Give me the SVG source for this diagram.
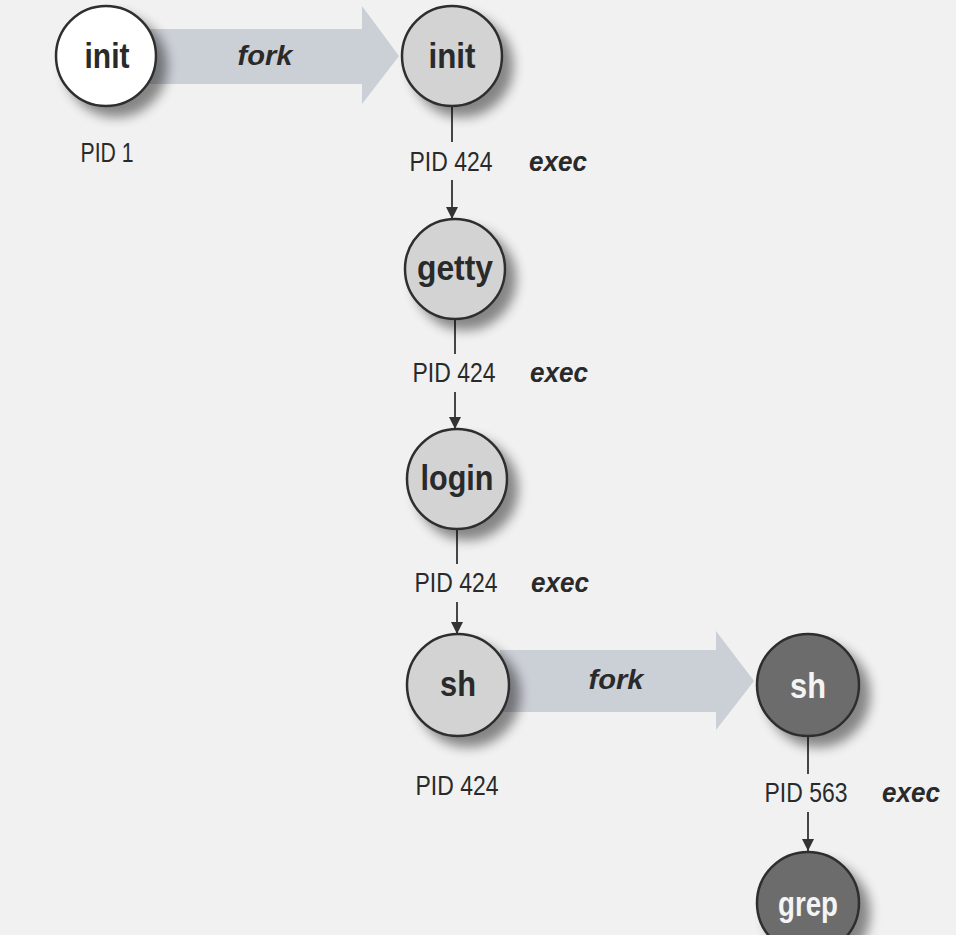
<svg xmlns="http://www.w3.org/2000/svg" width="956" height="935" viewBox="0 0 956 935">
<defs>
<filter id="sh" x="-30%" y="-30%" width="170%" height="170%">
<feGaussianBlur in="SourceAlpha" stdDeviation="6"/>
<feOffset dx="10" dy="10" result="b"/>
<feComponentTransfer><feFuncA type="linear" slope="0.45"/></feComponentTransfer>
<feMerge><feMergeNode/><feMergeNode in="SourceGraphic"/></feMerge>
</filter>
<marker id="ah" viewBox="0 0 10 10" refX="10" refY="5" markerWidth="14" markerHeight="12" markerUnits="userSpaceOnUse" orient="auto">
<path d="M0,0 L10,5 L0,10 Z" fill="#333"/>
</marker>
<style>
.n{stroke:#2e2e2e;stroke-width:2.5}
.w{fill:#ffffff}
.l{fill:#d3d3d3}
.d{fill:#6c6c6c}
.lbl{font-family:"Liberation Sans","Arial",sans-serif;font-weight:bold;font-size:35px;text-anchor:middle;dominant-baseline:central}
.dk{fill:#2a2a2a}
.lt{fill:#f4f4f4}
.pid{font-family:"Liberation Sans","Arial",sans-serif;font-size:27px;fill:#2a2a2a;text-anchor:middle;dominant-baseline:central}
.op{font-family:"Liberation Sans","Arial",sans-serif;font-size:27px;font-weight:bold;font-style:italic;fill:#2a2a2a;text-anchor:middle;dominant-baseline:central}
.fk{fill:#cbcfd6}
.ln{stroke:#333;stroke-width:1.8;fill:none}
</style>
</defs>
<rect width="956" height="935" fill="#f1f1f1"/>
<g id="connectors">
<path class="fk" d="M150,29 L362,29 L362,6 L399,56 L362,104 L362,84 L150,84 Z"/>
<text class="op" x="265" y="56" textLength="55" lengthAdjust="spacingAndGlyphs">fork</text>
<path class="fk" d="M500,650 L716,650 L716,631 L754,681 L716,730 L716,712 L500,712 Z"/>
<text class="op" x="616" y="680" textLength="55" lengthAdjust="spacingAndGlyphs">fork</text>
<line class="ln" x1="452" y1="106" x2="452" y2="142"/>
<line class="ln" x1="452" y1="180" x2="452" y2="219" marker-end="url(#ah)"/>
<line class="ln" x1="455" y1="318" x2="455" y2="354"/>
<line class="ln" x1="455" y1="392" x2="455" y2="429" marker-end="url(#ah)"/>
<line class="ln" x1="457" y1="528" x2="457" y2="564"/>
<line class="ln" x1="457" y1="602" x2="457" y2="634" marker-end="url(#ah)"/>
<line class="ln" x1="808" y1="736" x2="808" y2="774"/>
<line class="ln" x1="808" y1="812" x2="808" y2="851" marker-end="url(#ah)"/>
</g>
<g id="init1"><circle class="n w" cx="106" cy="56" r="50" filter="url(#sh)"/><text class="lbl dk" x="107" y="55" textLength="45" lengthAdjust="spacingAndGlyphs">init</text></g>
<text class="pid" x="107" y="153" textLength="53" lengthAdjust="spacingAndGlyphs">PID 1</text>
<g id="init2"><circle class="n l" cx="452" cy="56" r="50" filter="url(#sh)"/><text class="lbl dk" x="452" y="55" textLength="47" lengthAdjust="spacingAndGlyphs">init</text></g>
<text class="pid" x="451" y="162" textLength="83" lengthAdjust="spacingAndGlyphs">PID 424</text><text class="op" x="558" y="162" textLength="58" lengthAdjust="spacingAndGlyphs">exec</text>
<g id="getty"><circle class="n l" cx="455" cy="269" r="50" filter="url(#sh)"/><text class="lbl dk" x="455" y="267" textLength="76" lengthAdjust="spacingAndGlyphs">getty</text></g>
<text class="pid" x="454" y="373" textLength="83" lengthAdjust="spacingAndGlyphs">PID 424</text><text class="op" x="559" y="373" textLength="58" lengthAdjust="spacingAndGlyphs">exec</text>
<g id="login"><circle class="n l" cx="457" cy="479" r="50" filter="url(#sh)"/><text class="lbl dk" x="457" y="477" textLength="73" lengthAdjust="spacingAndGlyphs">login</text></g>
<text class="pid" x="456" y="583" textLength="83" lengthAdjust="spacingAndGlyphs">PID 424</text><text class="op" x="560" y="583" textLength="58" lengthAdjust="spacingAndGlyphs">exec</text>
<g id="sh1"><circle class="n l" cx="458" cy="685" r="51" filter="url(#sh)"/><text class="lbl dk" x="458" y="683" textLength="36" lengthAdjust="spacingAndGlyphs">sh</text></g>
<text class="pid" x="457" y="786" textLength="83" lengthAdjust="spacingAndGlyphs">PID 424</text>
<g id="sh2"><circle class="n d" cx="808" cy="685" r="51" filter="url(#sh)"/><text class="lbl lt" x="808" y="685" textLength="36" lengthAdjust="spacingAndGlyphs">sh</text></g>
<text class="pid" x="806" y="793" textLength="83" lengthAdjust="spacingAndGlyphs">PID 563</text><text class="op" x="911" y="793" textLength="58" lengthAdjust="spacingAndGlyphs">exec</text>
<g id="grep"><circle class="n d" cx="808" cy="903" r="51" filter="url(#sh)"/><text class="lbl lt" x="808" y="903" textLength="60" lengthAdjust="spacingAndGlyphs">grep</text></g>
</svg>
